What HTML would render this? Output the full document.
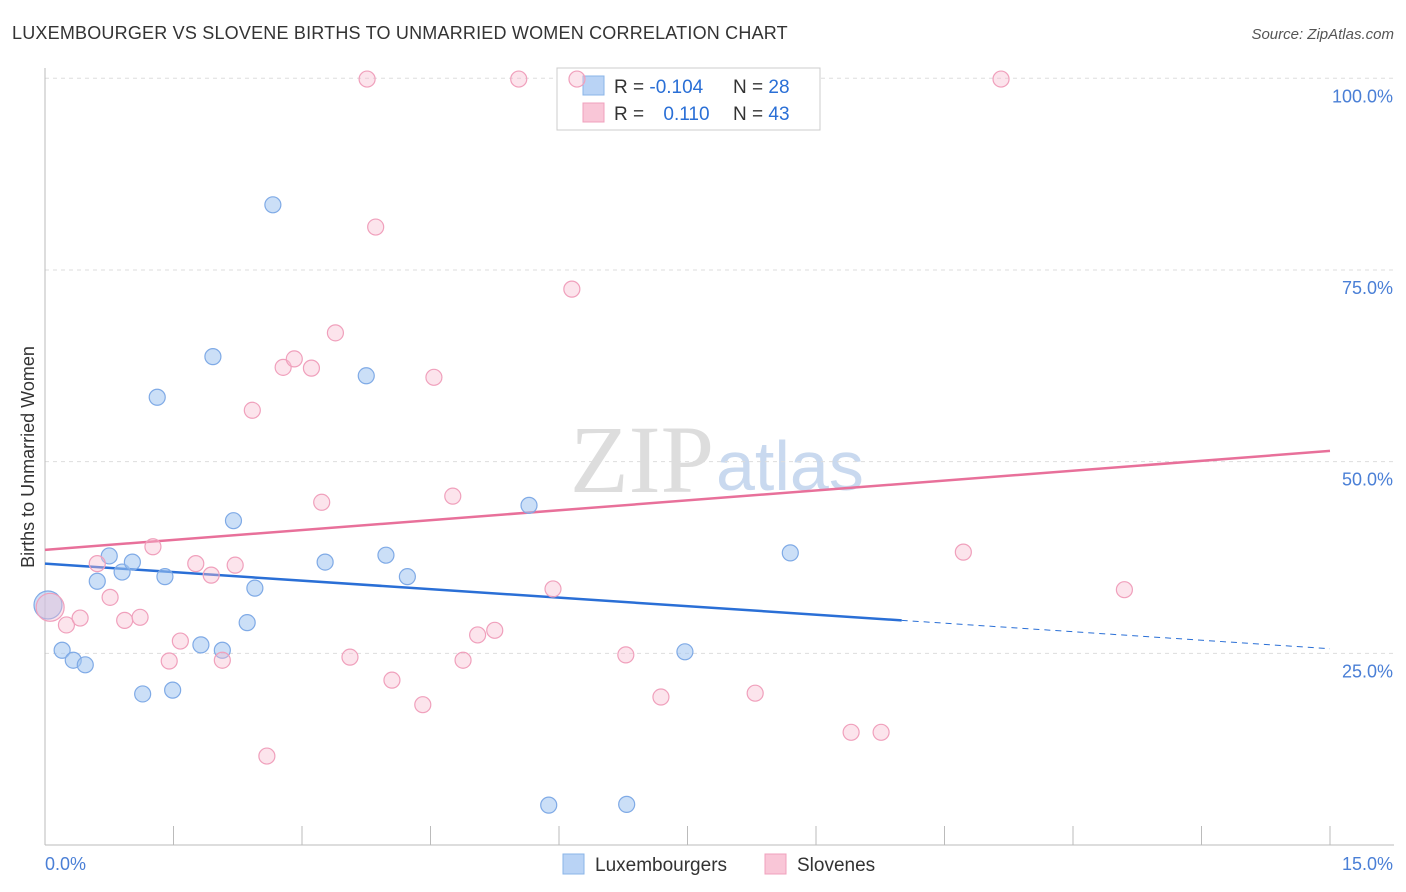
<!DOCTYPE html>
<html><head><meta charset="utf-8">
<style>
body{margin:0;background:#fff;font-family:"Liberation Sans",sans-serif;}
#wrap{position:relative;width:1406px;height:892px;overflow:hidden;}
</style></head>
<body>
<div id="wrap">
<svg id="chart" width="1406" height="892" xmlns="http://www.w3.org/2000/svg">
<text x="12" y="39" font-size="18" letter-spacing="0.2" fill="#333">LUXEMBOURGER VS SLOVENE BIRTHS TO UNMARRIED WOMEN CORRELATION CHART</text>
<text x="1394" y="39" font-size="15" fill="#555" text-anchor="end" font-style="italic">Source: ZipAtlas.com</text>
<text x="34" y="457" font-size="18" fill="#333" text-anchor="middle" transform="rotate(-90 34 457)">Births to Unmarried Women</text>
<text x="714" y="492" font-size="96" fill="#ddd" text-anchor="end" font-family="Liberation Serif,serif">ZIP</text>
<text x="716" y="490" font-size="70" fill="#c9d9ef">atlas</text>
<g id="grid"></g><g id="lines"></g>
<g>
<rect x="557" y="68" width="263" height="62" fill="#fff" stroke="#ccc"/>
<rect x="583" y="76" width="21" height="19" fill="#b9d3f5" stroke="#8ab4e8"/>
<rect x="583" y="103" width="21" height="19" fill="#f9c6d7" stroke="#f0a0bc"/>
<text x="614" y="93" font-size="19" fill="#333">R = <tspan fill="#2a6fd6">-0.104</tspan></text>
<text x="733" y="93" font-size="19" fill="#333">N = <tspan fill="#2a6fd6">28</tspan></text>
<text x="614" y="120" font-size="19" fill="#333">R = <tspan fill="#2a6fd6" dx="14">0.110</tspan></text>
<text x="733" y="120" font-size="19" fill="#333">N = <tspan fill="#2a6fd6">43</tspan></text>
</g>
<g id="pts"></g>
<g>
<rect x="563" y="854" width="21" height="20" fill="#b9d3f5" stroke="#8ab4e8"/>
<text x="595" y="871" font-size="19" fill="#333">Luxembourgers</text>
<rect x="765" y="854" width="21" height="20" fill="#f9c6d7" stroke="#f0a0bc"/>
<text x="797" y="871" font-size="19" fill="#333">Slovenes</text>
</g>
</svg>
</div>
<script>
const luxX=[0.035,0.20,0.33,0.47,0.61,0.75,0.90,1.02,1.14,1.31,1.40,1.49,1.82,1.96,2.07,2.20,2.36,2.45,2.66,3.27,3.75,3.98,4.23,5.65,5.88,6.79,7.47,8.70];
const luxY=[31.3,25.4,24.1,23.5,34.4,37.7,35.6,36.9,19.7,58.4,35.0,20.2,26.1,63.7,25.4,42.3,29.0,33.5,83.5,36.9,61.2,37.8,35.0,44.3,5.2,5.3,25.2,38.1];
const sloX=[0.06,0.25,0.41,0.61,0.76,0.93,1.11,1.26,1.45,1.58,1.76,1.94,2.07,2.22,2.42,2.59,2.78,2.91,3.11,3.23,3.39,3.56,3.76,3.86,4.05,4.41,4.54,4.76,4.88,5.05,5.25,5.53,5.93,6.15,6.21,6.78,7.19,8.29,9.41,9.76,10.72,11.16,12.60];
const sloY=[31.0,28.7,29.6,36.7,32.3,29.3,29.7,38.9,24.0,26.6,36.7,35.2,24.1,36.5,56.7,11.6,62.3,63.4,62.2,44.7,66.8,24.5,99.9,80.6,21.5,18.3,61.0,45.5,24.1,27.4,28.0,99.9,33.4,72.5,99.9,24.8,19.3,19.8,14.7,14.7,38.2,99.9,33.3];
const luxTrend=[36.7,29.3,25.6]; const luxTrendX=[0,10.0,15];
const sloTrend=[38.5,51.4]; const sloTrendX=[0,15];
const yTicks=[25,50,75,100]; const yTickLabels=["25.0%","50.0%","75.0%","100.0%"];
const xTicks=[0,1.5,3,4.5,6,7.5,9,10.5,12,13.5,15];
const NS="http://www.w3.org/2000/svg";
const sx=v=>45+v*1285/15, sy=v=>845-v*7.667;
function mk(t,a,p){const e=document.createElementNS(NS,t);for(const k in a)e.setAttribute(k,a[k]);p.appendChild(e);return e;}
const g=document.getElementById('grid');
yTicks.forEach((v,i)=>{
 const l=mk('line',{x1:45,x2:1394,y1:sy(v),y2:sy(v),stroke:'#ddd','stroke-dasharray':'4,4'},g);
 
 
 const t=mk('text',{x:1393,y:sy(v)+24,'font-size':18,fill:'#4a7fd6','text-anchor':'end'},g);t.textContent=yTickLabels[i];
 
 
});
mk('line',{x1:45,x2:45,y1:68,y2:845,stroke:'#bbb'},g);
mk('line',{x1:45,x2:1394,y1:845,y2:845,stroke:'#bbb'},g);
xTicks.forEach(v=>{const l=mk('line',{x1:sx(v),x2:sx(v),y1:826,y2:845,stroke:'#bbb'},g);
 
 });
let t=mk('text',{x:45,y:870,'font-size':18,fill:'#4a7fd6'},g);t.textContent='0.0%';


t=mk('text',{x:1393,y:870,'font-size':18,fill:'#4a7fd6','text-anchor':'end'},g);t.textContent='15.0%';


const L=document.getElementById('lines');
let a=mk('line',{x1:sx(luxTrendX[0]),y1:sy(luxTrend[0]),x2:sx(luxTrendX[1]),y2:sy(luxTrend[1]),stroke:'#2a6fd6','stroke-width':2.5},L);


a=mk('line',{x1:sx(luxTrendX[1]),y1:sy(luxTrend[1]),x2:sx(luxTrendX[2]),y2:sy(luxTrend[2]),stroke:'#2a6fd6','stroke-width':1,'stroke-dasharray':'6,5'},L);


a=mk('line',{x1:sx(sloTrendX[0]),y1:sy(sloTrend[0]),x2:sx(sloTrendX[1]),y2:sy(sloTrend[1]),stroke:'#e8709a','stroke-width':2.5},L);


const P=document.getElementById('pts');
luxX.forEach((x,i)=>{const c=mk('circle',{cx:sx(x),cy:sy(luxY[i]),r:i===0?14:8,fill:'rgba(160,196,240,0.55)',stroke:'#7faae6','stroke-width':1.2},P);
 
 });
sloX.forEach((x,i)=>{const c=mk('circle',{cx:sx(x),cy:sy(sloY[i]),r:i===0?14:8,fill:'rgba(248,187,208,0.4)',stroke:'#f0a0bc','stroke-width':1.2},P);
 
 });
</script>
</body></html>
